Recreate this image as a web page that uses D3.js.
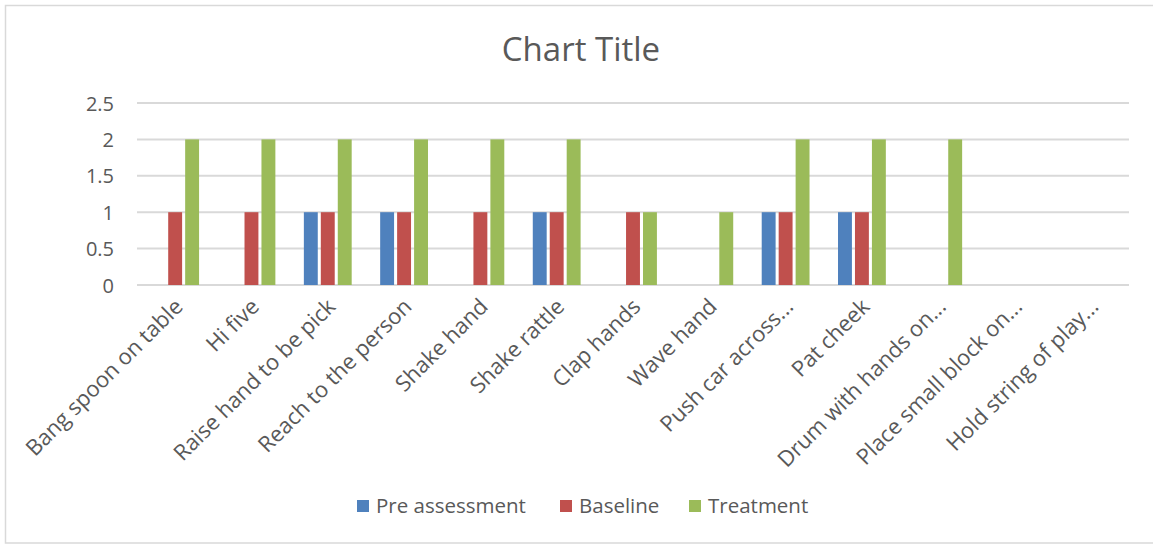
<!DOCTYPE html>
<html><head><meta charset="utf-8">
<script src="https://cdn.jsdelivr.net/npm/d3@7"></script>
<style>
html,body{margin:0;padding:0;background:#fff;}
svg{display:block;}
text{font-family:"Open Sans",sans-serif;fill:#595959;}
</style></head>
<body>
<svg id="chart" width="1153" height="546"></svg>
<script>
const categories = ["Bang spoon on table","Hi five","Raise hand to be pick","Reach to the person","Shake hand","Shake rattle","Clap hands","Wave hand","Push car across...","Pat cheek","Drum with hands on...","Place small block on...","Hold string of play..."];
const seriesNames = ["Pre assessment","Baseline","Treatment"];
const preAssessment = [0,0,1,1,0,1,0,0,1,1,0,0,0];
const baseline      = [1,1,1,1,1,1,1,0,1,1,0,0,0];
const treatment     = [2,2,2,2,2,2,1,1,2,2,2,0,0];
const yTicks = [0,0.5,1,1.5,2,2.5];
const colors = ["#4F81BD","#C0504D","#9BBB59"];
const seriesValues = [preAssessment, baseline, treatment];

(function(){
const svg = d3.select("#chart");
// frame
svg.append("rect").attr("x",5.5).attr("y",5.5).attr("width",1160).attr("height",537.5)
  .attr("fill","#fff").attr("stroke","#D9D9D9").attr("stroke-width",1.5);

const pLeft=137, pRight=1129, pTop=103, pBottom=285;
const x = d3.scaleBand().domain(categories).range([pLeft,pRight]).paddingInner(0).paddingOuter(0);
const y = d3.scaleLinear().domain([0,2.5]).range([pBottom,pTop]);
const pitch = x.bandwidth()/4.5;
const x1 = d3.scaleBand().domain(seriesNames).range([0, pitch*3]).padding(0);
const barW = pitch*0.82;

// title
svg.append("text").attr("x",581).attr("y",61).attr("text-anchor","middle")
  .attr("font-size",33).text("Chart Title");

// gridlines
svg.append("g").selectAll("line").data(yTicks).join("line")
  .attr("x1",pLeft).attr("x2",pRight).attr("y1",d=>y(d)).attr("y2",d=>y(d))
  .attr("stroke","#D9D9D9").attr("stroke-width",2);

// y axis labels
const yAxis = d3.axisLeft(y).tickValues(yTicks).tickSize(0).tickPadding(0).tickFormat(d3.format("~g"));
const ga = svg.append("g").attr("transform",`translate(${pLeft-23},0)`).call(yAxis);
ga.select(".domain").remove();
ga.selectAll("text").attr("font-size",20).attr("fill","#595959").attr("font-family","Open Sans, sans-serif").attr("dy","0.35em");

// bars
const data = [];
categories.forEach((c,i)=>seriesNames.forEach((s,j)=>data.push({c,s,j,v:seriesValues[j][i]})));
const groupOffset = (x.bandwidth()-pitch*3)/2;
svg.append("g").selectAll("rect").data(data.filter(d=>d.v>0)).join("rect")
  .attr("x",d=>x(d.c)+groupOffset+x1(d.s)+(pitch-barW)/2)
  .attr("y",d=>y(d.v)).attr("width",barW).attr("height",d=>y(0)-y(d.v))
  .attr("fill",d=>colors[d.j]);

// x labels
const xAxis = d3.axisBottom(x).tickSize(0).tickPadding(0);
const gx = svg.append("g").attr("transform",`translate(0,${pBottom})`).call(xAxis);
gx.select(".domain").remove();
gx.selectAll("text").attr("font-size",22).attr("fill","#595959").attr("font-family","Open Sans, sans-serif")
  .attr("text-anchor","end").attr("dy",0).attr("y",0)
  .attr("transform","translate(9,23) rotate(-45)");

// legend
const legendX = [357,560,689];
const lg = svg.append("g").selectAll("g").data(seriesNames).join("g")
  .attr("transform",(d,i)=>`translate(${legendX[i]},506)`);
lg.append("rect").attr("x",0).attr("y",-6).attr("width",12).attr("height",12).attr("fill",(d,i)=>colors[i]);
lg.append("text").attr("x",19).attr("y",0).attr("dy","0.35em").attr("font-size",20.5).text(d=>d);
})();
</script>
</body></html>
